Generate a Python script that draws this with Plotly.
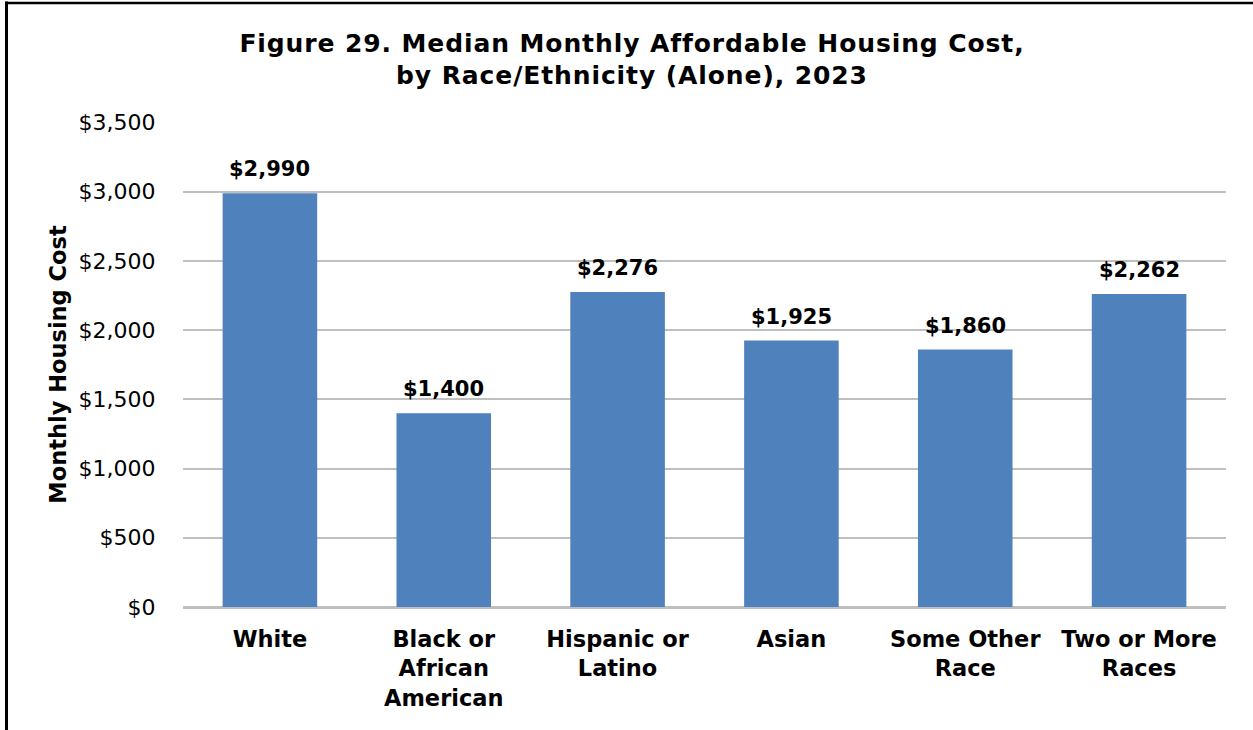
import plotly.graph_objects as go

categories = ["White", "Black or African American", "Hispanic or Latino", "Asian",
              "Some Other Race", "Two or More Races"]
category_lines = [["White"], ["Black or", "African", "American"], ["Hispanic or", "Latino"],
                  ["Asian"], ["Some Other", "Race"], ["Two or More", "Races"]]
values = [2990, 1400, 2276, 1925, 1860, 2262]
value_labels = ["$2,990", "$1,400", "$2,276", "$1,925", "$1,860", "$2,262"]
tick_vals = [0, 500, 1000, 1500, 2000, 2500, 3000, 3500]
tick_text = ["$0", "$500", "$1,000", "$1,500", "$2,000", "$2,500", "$3,000", "$3,500"]
title_lines = ["Figure 29. Median Monthly Affordable Housing Cost,",
               "by Race/Ethnicity (Alone), 2023"]
y_title = "Monthly Housing Cost"

FONT = "DejaVu Sans, Liberation Sans, Arial, sans-serif"


def sp(text, ls):
    return f'<span style="letter-spacing:{ls}px"><b>{text}</b></span>'


W, H = 1253, 730
L, R, B = 183, 27, 123
Y_TOP = 3504  # tiny headroom so the $3,500 gridline is drawn
ph = (H - B - 123) * Y_TOP / 3500
T = round(H - B - ph)
pw = W - L - R

fig = go.Figure(go.Bar(
    x=categories, y=values,
    marker=dict(color="#4F81BD", line=dict(width=0)),
    width=0.544,
    hoverinfo="x+y",
))

for c, v, lab in zip(categories, values, value_labels):
    fig.add_annotation(x=c, y=v, xref="x", yref="y", text=f"<b>{lab}</b>",
                       showarrow=False, yanchor="bottom", yshift=10,
                       font=dict(family=FONT, size=21, color="black"))

fig.update_layout(
    width=W, height=H,
    margin=dict(l=L, r=R, t=T, b=B),
    plot_bgcolor="white", paper_bgcolor="white",
    showlegend=False,
    title=dict(text="<br>".join(sp(t, 0.9) for t in title_lines),
               x=632 / W, xanchor="center", y=0.929, yanchor="top",
               font=dict(family=FONT, size=25, color="black")),
    font=dict(family=FONT, color="black"),
    xaxis=dict(
        tickvals=categories,
        ticktext=["<br>".join(f"<b>{s}</b>" for s in lines) for lines in category_lines],
        tickfont=dict(family=FONT, size=22.5, color="black"),
        showgrid=False, showline=False, zeroline=False,
        ticks="outside", ticklen=12, tickcolor="rgba(0,0,0,0)",
    ),
    yaxis=dict(
        range=[0, Y_TOP], tickvals=tick_vals, ticktext=tick_text,
        tickfont=dict(family=FONT, size=22, color="black"),
        showgrid=True, gridcolor="#BFBFBF", gridwidth=1.6,
        zeroline=True, zerolinecolor="#BFBFBF", zerolinewidth=3,
        showline=False,
        ticks="outside", ticklen=22, tickcolor="rgba(0,0,0,0)",
        title=dict(text=f"<b>{y_title}</b>", font=dict(family=FONT, size=22.5, color="black"),
                   standoff=5),
    ),
)

# outer frame: left and top edges are visible in the reference
def px_x(p):
    return (p - L) / pw


def px_y(p):
    return (H - B - p) / ph


fig.add_shape(type="line", xref="paper", yref="paper", layer="above",
              x0=px_x(6.5), x1=px_x(6.5), y0=px_y(2), y1=px_y(740), line=dict(color="black", width=3))
fig.add_shape(type="line", xref="paper", yref="paper", layer="above",
              x0=px_x(5), x1=px_x(1260), y0=px_y(3.5), y1=px_y(3.5), line=dict(color="black", width=2.5))

fig.write_html("out.html", config={"displayModeBar": False},
               post_script="document.body.style.margin='0';document.body.style.overflow='hidden';")
